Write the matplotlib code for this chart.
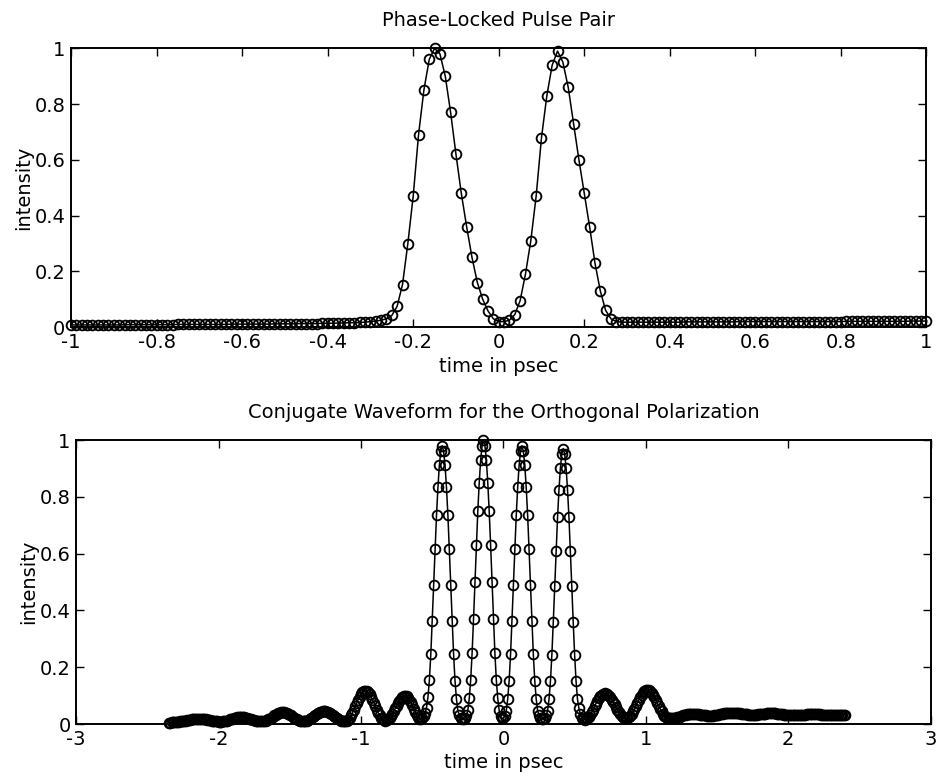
import numpy as np
import matplotlib
matplotlib.use("Agg")
import matplotlib.pyplot as plt

plt.rcParams['font.family'] = ['DejaVu Sans']

# ---------------- data ----------------
top_title = "Phase-Locked Pulse Pair"
bottom_title = "Conjugate Waveform for the Orthogonal Polarization"
x_label = "time in psec"
y_label = "intensity"

# top panel: samples from -1 to 1 psec, step 0.0125
top_t_start, top_t_end = -1.0, 1.0
top_intensity = [
    .008, .008, .008, .008, .008, .008, .008, .008, .008, .008,
    .009, .009, .009, .009, .009, .009, .009, .009, .009, .009,
    .010, .010, .010, .010, .010, .010, .010, .010, .010, .010,
    .011, .011, .011, .011, .011, .011, .011, .011, .012, .012,
    .012, .012, .012, .013, .013, .013, .013, .014, .014, .014,
    .015, .015, .016, .016, .017, .018,
    # pulse region -0.3 .. 0.3
    .020, .022, .025, .030, .042, .075, .153, .300, .470, .690,
    .850, .960, 1.00, .980, .900, .770, .620, .480, .360, .250,
    .160, .100, .058, .030, .020, .020, .025, .045, .095, .190,
    .310, .470, .680, .830, .940, .990, .950, .860, .730, .600,
    .480, .360, .230, .130, .060, .030, .020, .018, .018,
    # right flat part
    .018, .018, .018, .018, .018, .018, .018, .018, .018, .018,
    .019, .019, .019, .019, .019, .019, .019, .019, .019, .019,
    .020, .020, .020, .020, .020, .020, .020, .020, .020, .020,
    .020, .020, .020, .020, .020, .020, .020, .020, .020, .020,
    .021, .021, .021, .021, .021, .021, .021, .021, .021, .021,
    .021, .021, .022, .022, .022, .022,
]

# bottom panel: samples from -2.35 to 2.40 psec, step 0.01
bottom_t_start, bottom_t_end = -2.35, 2.40
bottom_intensity = [
    .005, .005, .006, .006, .007, .007, .008, .008, .009, .009,
    .010, .011, .012, .013, .014, .015, .016, .017, .017, .018,
    .018, .018, .018, .018, .017, .017, .016, .015, .014, .013,
    .012, .011, .010, .009, .009, .008, .008, .008, .009, .010,
    .011, .012, .014, .016, .018, .019, .021, .022, .023, .024,
    .024, .024, .024, .023, .022, .021, .019, .018, .016, .014,
    .013, .012, .011, .010, .010, .010, .010, .010, .012, .014,
    .016, .019, .022, .026, .030, .033, .036, .039, .040, .042,
    .042, .042, .040, .039, .036, .033, .030, .026, .022, .019,
    .016, .014, .012, .010, .010, .010, .011, .012, .014, .017,
    .020, .024, .028, .032, .036, .039, .042, .044, .046, .046,
    .046, .044, .042, .039, .036, .032, .028, .024, .020, .017,
    .014, .012, .011, .010, .010, .011, .015, .022, .030, .040,
    .051, .063, .075, .086, .096, .104, .111, .115, .116, .115,
    .111, .104, .096, .086, .075, .063, .051, .040, .030, .022,
    .016, .013, .012, .013, .016, .021, .028, .036, .046, .055,
    .065, .074, .082, .089, .094, .097, .098, .097, .093, .086,
    .077, .066, .054, .042, .031, .023, .018, .017, .022, .028,
    .038, .058, .095, .155, .245, .363, .490, .617, .735, .833,
    .911, .960, .980, .960, .911, .833, .735, .617, .490, .363,
    .245, .152, .088, .047, .030, .020, .017, .017, .020, .030,
    .048, .090, .155, .250, .370, .500, .630, .750, .850, .930,
    .980, 1.00, .980, .930, .850, .750, .630, .500, .370, .250,
    .155, .090, .048, .029, .020, .020, .029, .047, .088, .152,
    .245, .363, .490, .617, .735, .833, .911, .960, .980, .960,
    .911, .833, .735, .617, .490, .363, .245, .152, .088, .047,
    .030, .020, .017, .017, .020, .030, .047, .087, .150, .243,
    .359, .485, .611, .728, .825, .902, .951, .970, .951, .902,
    .825, .728, .611, .485, .359, .243, .150, .087, .055, .035,
    .022, .017, .015, .016, .020, .025, .033, .041, .051, .062,
    .072, .082, .091, .098, .103, .107, .108, .107, .104, .100,
    .094, .086, .078, .069, .059, .050, .042, .035, .028, .024,
    .021, .020, .021, .024, .029, .036, .045, .054, .064, .075,
    .085, .094, .103, .110, .115, .118, .119, .118, .115, .110,
    .103, .094, .085, .075, .064, .054, .045, .036, .029, .024,
    .021, .020, .020, .021, .020, .021, .022, .023, .025, .026,
    .028, .030, .032, .033, .034, .035, .036, .036, .036, .036,
    .035, .035, .034, .033, .032, .031, .030, .030, .029, .028,
    .028, .029, .029, .030, .031, .032, .033, .034, .035, .036,
    .037, .038, .038, .038, .039, .039, .039, .038, .038, .038,
    .037, .037, .036, .035, .035, .034, .034, .033, .033, .032,
    .032, .032, .033, .033, .034, .034, .035, .035, .036, .036,
    .037, .037, .037, .037, .037, .037, .037, .036, .036, .035,
    .035, .034, .033, .033, .032, .031, .031, .030, .030, .030,
    .030, .030, .031, .031, .032, .032, .033, .033, .034, .034,
    .034, .035, .035, .035, .035, .034, .034, .034, .033, .033,
    .032, .032, .031, .031, .030, .030, .030, .030, .031, .031,
    .032, .032, .032, .032, .032, .032,
]

top_xticks = [-1, -0.8, -0.6, -0.4, -0.2, 0, 0.2, 0.4, 0.6, 0.8, 1]
top_xticklabels = ["-1", "-0.8", "-0.6", "-0.4", "-0.2", "0", "0.2", "0.4", "0.6", "0.8", "1"]
bottom_xticks = [-3, -2, -1, 0, 1, 2, 3]
bottom_xticklabels = ["-3", "-2", "-1", "0", "1", "2", "3"]
yticks = [0, 0.2, 0.4, 0.6, 0.8, 1]
yticklabels = ["0", "0.2", "0.4", "0.6", "0.8", "1"]

# ---------------- drawing ----------------
top_t = np.linspace(top_t_start, top_t_end, len(top_intensity))
bottom_t = np.linspace(bottom_t_start, bottom_t_end, len(bottom_intensity))

fig = plt.figure(figsize=(9.41, 7.79), dpi=100)
ax1 = fig.add_axes([0.0755, 0.580, 0.909, 0.358])
ax2 = fig.add_axes([0.081, 0.0706, 0.908, 0.3645])

style = dict(color='black', lw=1.1, marker='o', ms=7, mfc='none',
             mec='black', mew=1.35, clip_on=False)

ax1.plot(top_t, top_intensity, **style)
ax2.plot(bottom_t, bottom_intensity, **style)

fs = 14
for ax, title, xt, xtl, xlim in [
        (ax1, top_title, top_xticks, top_xticklabels, (-1, 1)),
        (ax2, bottom_title, bottom_xticks, bottom_xticklabels, (-3, 3))]:
    ax.set_xlim(*xlim)
    ax.set_ylim(0, 1)
    ax.set_xticks(xt)
    ax.set_xticklabels(xtl, fontsize=fs)
    ax.set_yticks(yticks)
    ax.set_yticklabels(yticklabels, fontsize=fs)
    ax.tick_params(direction='in', top=True, right=True, length=6,
                   width=1.0)
    ax.tick_params(axis='x', pad=4.5)
    ax.tick_params(axis='y', pad=4)
    for sp in ax.spines.values():
        sp.set_linewidth(1.4)
    ax.set_title(title, fontsize=fs, pad=16)
    ax.set_xlabel(x_label, fontsize=fs, labelpad=3)
    ax.set_ylabel(y_label, fontsize=fs, labelpad=1)

fig.savefig("out.png", dpi=100, facecolor='white')
